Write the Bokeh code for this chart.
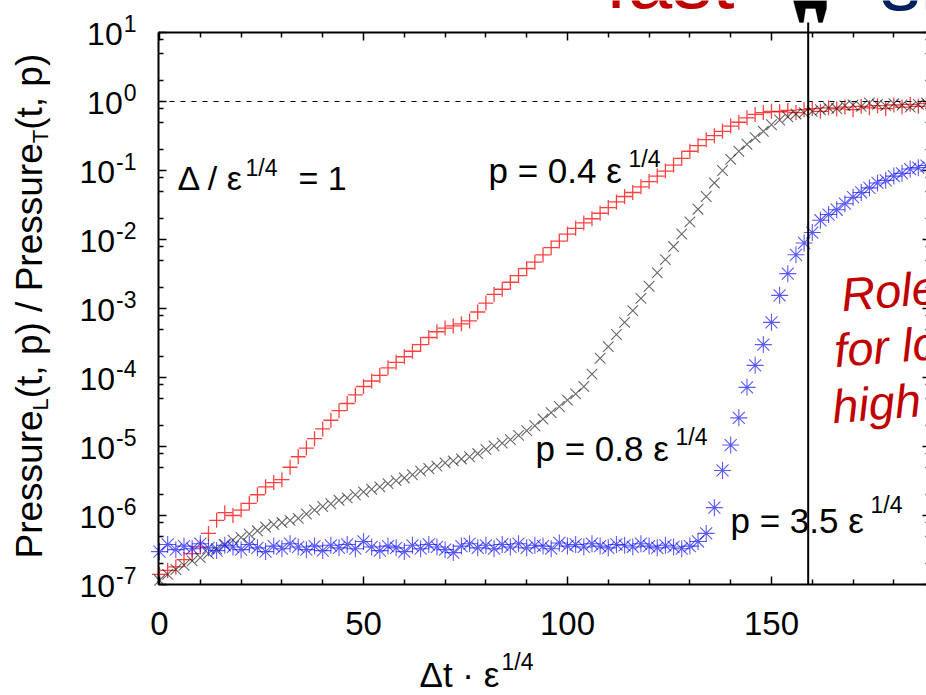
import math
from bokeh.plotting import figure
from bokeh.models import (Range1d, FixedTicker, LinearAxis, LogAxis, Label, Arrow,
                          PolyAnnotation, CustomJSTickFormatter)
from bokeh.embed import file_html
from bokeh.resources import INLINE

# ---------------- data ----------------
t = list(range(0, 189, 2))

red_p04 = [
    1.4e-7, 1.6e-7, 1.8e-7, 2.3e-7, 2.8e-7, 3.5e-7, 5.5e-7, 8.5e-7, 1.1e-6, 1.0e-6,
    1.2e-6, 1.5e-6, 2.0e-6, 2.6e-6, 3.0e-6, 3.3e-6, 5.0e-6, 7.1e-6, 9.5e-6, 1.3e-5,
    1.8e-5, 2.4e-5, 3.3e-5, 4.2e-5, 5.6e-5, 7.4e-5, 8.9e-5, 1.07e-4, 1.38e-4, 1.66e-4,
    2.0e-4, 2.4e-4, 3.0e-4, 3.8e-4, 4.6e-4, 5.2e-4, 5.6e-4, 6.0e-4, 6.6e-4, 8.9e-4,
    1.2e-3, 1.6e-3, 1.9e-3, 2.4e-3, 3.0e-3, 3.8e-3, 4.7e-3, 6.0e-3, 7.6e-3, 9.5e-3,
    1.2e-2, 1.45e-2, 1.74e-2, 2.0e-2, 2.4e-2, 2.9e-2, 3.5e-2, 4.2e-2, 4.8e-2, 5.8e-2,
    6.9e-2, 8.3e-2, 9.8e-2, 0.12, 0.15, 0.19, 0.23, 0.28, 0.32, 0.37,
    0.44, 0.50, 0.58, 0.65, 0.69, 0.72, 0.71, 0.74, 0.69, 0.76,
    0.79, 0.72, 0.81, 0.78, 0.83, 0.76, 0.85, 0.81, 0.87, 0.79,
    0.89, 0.83, 0.91, 0.85, 0.93,
]

black_p08 = [
    1.15e-7, 1.4e-7, 1.65e-7, 1.9e-7, 2.2e-7, 2.45e-7, 2.8e-7, 3.3e-7, 3.8e-7, 4.4e-7,
    4.8e-7, 5.4e-7, 6.0e-7, 6.8e-7, 7.4e-7, 7.9e-7, 8.5e-7, 9.1e-7, 1.05e-6, 1.2e-6,
    1.35e-6, 1.48e-6, 1.66e-6, 1.8e-6, 2.0e-6, 2.2e-6, 2.4e-6, 2.6e-6, 2.9e-6, 3.2e-6,
    3.5e-6, 3.9e-6, 4.4e-6, 4.8e-6, 5.2e-6, 5.8e-6, 6.2e-6, 6.6e-6, 7.1e-6, 7.9e-6,
    9.1e-6, 1.02e-5, 1.12e-5, 1.26e-5, 1.45e-5, 1.7e-5, 2.0e-5, 2.5e-5, 3.1e-5, 3.8e-5,
    4.7e-5, 5.8e-5, 7.4e-5, 1.12e-4, 1.9e-4, 2.8e-4, 4.2e-4, 6.3e-4, 9.3e-4, 1.4e-3,
    2.1e-3, 3.3e-3, 5.1e-3, 7.9e-3, 1.2e-2, 1.8e-2, 2.75e-2, 4.2e-2, 6.6e-2, 0.10,
    0.145, 0.19, 0.24, 0.30, 0.37, 0.46, 0.54, 0.60, 0.66, 0.69,
    0.72, 0.76, 0.81, 0.79, 0.87, 0.89, 0.85, 0.95, 0.91, 0.87,
    0.93, 0.89, 0.83, 0.91, 0.95,
]

blue_p35 = [
    3.0e-7, 3.8e-7, 3.2e-7, 3.6e-7, 3.3e-7, 3.9e-7, 3.4e-7, 3.1e-7, 3.7e-7, 3.5e-7,
    3.2e-7, 3.8e-7, 3.4e-7, 3.0e-7, 3.6e-7, 3.3e-7, 3.9e-7, 3.5e-7, 3.2e-7, 3.6e-7,
    3.1e-7, 3.7e-7, 3.4e-7, 3.8e-7, 3.3e-7, 4.2e-7, 3.5e-7, 3.1e-7, 3.6e-7, 3.4e-7,
    3.0e-7, 3.7e-7, 3.3e-7, 3.8e-7, 3.5e-7, 3.2e-7, 2.9e-7, 3.6e-7, 3.9e-7, 3.4e-7,
    3.7e-7, 3.3e-7, 3.8e-7, 3.5e-7, 3.9e-7, 3.4e-7, 3.7e-7, 3.6e-7, 3.3e-7, 4.0e-7,
    3.6e-7, 3.8e-7, 3.5e-7, 3.9e-7, 3.6e-7, 3.4e-7, 3.8e-7, 3.7e-7, 3.5e-7, 3.9e-7,
    3.6e-7, 3.4e-7, 3.7e-7, 3.5e-7, 3.3e-7, 3.6e-7, 4.2e-7, 5.5e-7, 1.3e-6, 4.5e-6,
    1.05e-5, 2.6e-5, 7.2e-5, 1.5e-4, 3.0e-4, 6.3e-4, 1.55e-3, 3.2e-3, 6.0e-3, 8.9e-3,
    1.26e-2, 1.9e-2, 2.3e-2, 2.7e-2, 3.3e-2, 4.1e-2, 4.8e-2, 5.6e-2, 6.6e-2, 7.2e-2,
    8.3e-2, 9.1e-2, 0.105, 0.11, 0.118,
]

x_major = [0, 50, 100, 150]
x_minor = [10, 20, 30, 40, 60, 70, 80, 90, 110, 120, 130, 140, 160, 170, 180]
y_exponents = [1, 0, -1, -2, -3, -4, -5, -6, -7]
y_minor_mult = [2, 5, 8]
reference_level = 1.0
cut_time = 159.0

# ---------------- layout helpers (pixel -> data, through the plot's own ranges) ----------------
W, H = 926, 695
FL, FR, FT, FB = 158, 926, 32, 584          # the boxed plot area inside the canvas
X0, X1 = -0.25, 188.0
Y0, Y1 = 1e-7, 1e1
FONT = "Liberation Sans"
BASE_SHIFT = 0.38                            # anchor-to-baseline offset of Label text (em)


def X(px):
    return X0 + (px - FL) * (X1 - X0) / (FR - FL)


def Y(py):
    return 10 ** (math.log10(Y0) + (FB - py) * (math.log10(Y1) - math.log10(Y0)) / (FB - FT))


AW = {"P": 667, "r": 333, "e": 556, "s": 500, "u": 556, "(": 333, ")": 333, "t": 278,
      ",": 278, " ": 278, "p": 556, "/": 278, "L": 556, "T": 611, "-": 333,
      "0": 556, "1": 556, "2": 556, "3": 556, "4": 556, "5": 556, "6": 556, "7": 556}


def tw(s, size):
    return sum(AW[c] for c in s) * size / 1000.0


# frame covers the whole canvas; axes are pinned at the box edges with fixed_location
p = figure(width=W, height=H, x_range=Range1d(X(0), X(W)), y_range=Range1d(Y(H), Y(0)),
           y_axis_type="log", x_axis_location=None, y_axis_location=None,
           output_backend="svg", toolbar_location=None,
           min_border_left=0, min_border_right=0, min_border_top=0, min_border_bottom=0)
p.grid.visible = False
p.outline_line_color = None
p.background_fill_color = "white"
p.border_fill_color = "white"

blank = CustomJSTickFormatter(code="return ''")
xt = FixedTicker(ticks=x_major, minor_ticks=x_minor)
yt = FixedTicker(ticks=[10.0 ** e for e in y_exponents],
                 minor_ticks=[m * 10.0 ** e for e in y_exponents[1:] for m in y_minor_mult])
tick_style = dict(axis_line_width=2, major_tick_in=8, major_tick_out=0, minor_tick_in=5,
                  minor_tick_out=0, major_tick_line_width=1.5, minor_tick_line_width=1.5,
                  axis_line_color="black", major_tick_line_color="black",
                  minor_tick_line_color="black")

bottom = LinearAxis(ticker=xt, fixed_location=Y0, bounds=(X0, X1),
                    major_label_text_font=FONT, major_label_text_font_size="33px",
                    major_label_text_color="black", major_label_standoff=27, **tick_style)
p.add_layout(bottom, "below")

top = LinearAxis(ticker=xt, fixed_location=Y1, bounds=(X0, X1), formatter=blank,
                 major_label_standoff=0, **tick_style)
p.add_layout(top, "above")

left = LogAxis(ticker=yt, fixed_location=X0, bounds=(Y0, Y1), formatter=blank,
               major_label_standoff=0, **tick_style)
p.add_layout(left, "left")

right = LogAxis(ticker=yt, fixed_location=X(930), bounds=(Y0, Y1), formatter=blank,
                major_label_standoff=0, **tick_style)
p.add_layout(right, "right")

# dashed reference line at 1
p.add_layout(Arrow(end=None, x_start=X0, y_start=reference_level, x_end=X1,
                   y_end=reference_level, line_color="black", line_width=1, line_dash="5 6"))

# ---------------- series ----------------
p.scatter(t, red_p04, marker="cross", size=15, line_color="#ff0000", line_width=1.3, line_alpha=0.75)
p.scatter(t, black_p08, marker="x", size=15, line_color="#000000", line_width=1.1, line_alpha=0.6)
p.scatter(t, blue_p35, marker="asterisk", size=17, line_color="#0000ff", line_width=1.1, line_alpha=0.65)

# vertical marker line
p.add_layout(Arrow(end=None, x_start=cut_time, y_start=Y0, x_end=cut_time, y_end=Y(22),
                   line_color="black", line_width=2))


def txt(px, py, text, size, color="black", align="left", angle=0.0, style="normal"):
    """(px, py) = wanted start of the text baseline, in canvas pixels."""
    s = BASE_SHIFT * size
    ax = px - s * math.sin(angle)
    ay = py - s * math.cos(angle)
    p.add_layout(Label(x=X(ax), y=Y(ay), text=text, text_font=FONT,
                       text_font_size=f"{size}px", text_color=color, text_align=align,
                       text_baseline="alphabetic", angle=angle, text_font_style=style))


# y tick labels 10^n
for e in y_exponents:
    tick_py = FB - (e - y_exponents[-1]) * (FB - FT) / (len(y_exponents) - 1)
    sup = str(e)
    sup_left = 136 - tw(sup, 23)
    txt(sup_left - 1, tick_py + 14, "10", 32, align="right")
    txt(sup_left, tick_py, sup, 23)

# y axis label (rotated, with subscripts)
pos = 558
for piece, size, base in [("Pressure", 37, 43), ("L", 22, 48), ("(t, p) / Pressure", 37, 43),
                          ("T", 22, 48), ("(t, p)", 37, 43)]:
    txt(base, pos, piece, size, angle=math.pi / 2)
    pos -= tw(piece, size)

# x axis label
txt(419, 687, "Δt · ε", 35)
txt(501, 670, "1/4", 23)

# annotations
txt(177, 190, "Δ / ε", 34)
txt(245, 176, "1/4", 23)
txt(298, 190, "= 1", 34)

txt(488, 183, "p = 0.4 ε", 35)
txt(628, 167, "1/4", 23)

txt(535, 461, "p = 0.8 ε", 35)
txt(675, 445, "1/4", 23)

txt(730, 533, "p = 3.5 ε", 35)
txt(870, 513, "1/4", 23)

# slide texts (cropped by the slide edge, as in the original)
txt(605, 10, "fast", 80, color="#c00000")
txt(880, 12, "sl", 80, color="#002060")
txt(842, 312, "Role", 47, color="#c00000", angle=0.08, style="italic")
txt(835, 368, "for lo", 47, color="#c00000", angle=0.08, style="italic")
txt(833, 424, "high", 47, color="#c00000", angle=0.08, style="italic")

# black arrow foot at the top of the vertical line
foot_px = [793, 826, 826, 822, 818, 815, 805, 803, 799, 795]
foot_py = [0, 0, 8, 22, 22, 8, 8, 22, 22, 8]
p.add_layout(PolyAnnotation(xs=[X(v) for v in foot_px], ys=[Y(v) for v in foot_py],
                            fill_color="black", fill_alpha=1.0, line_color="black"))

open("out.html", "w").write(file_html(p, INLINE))
